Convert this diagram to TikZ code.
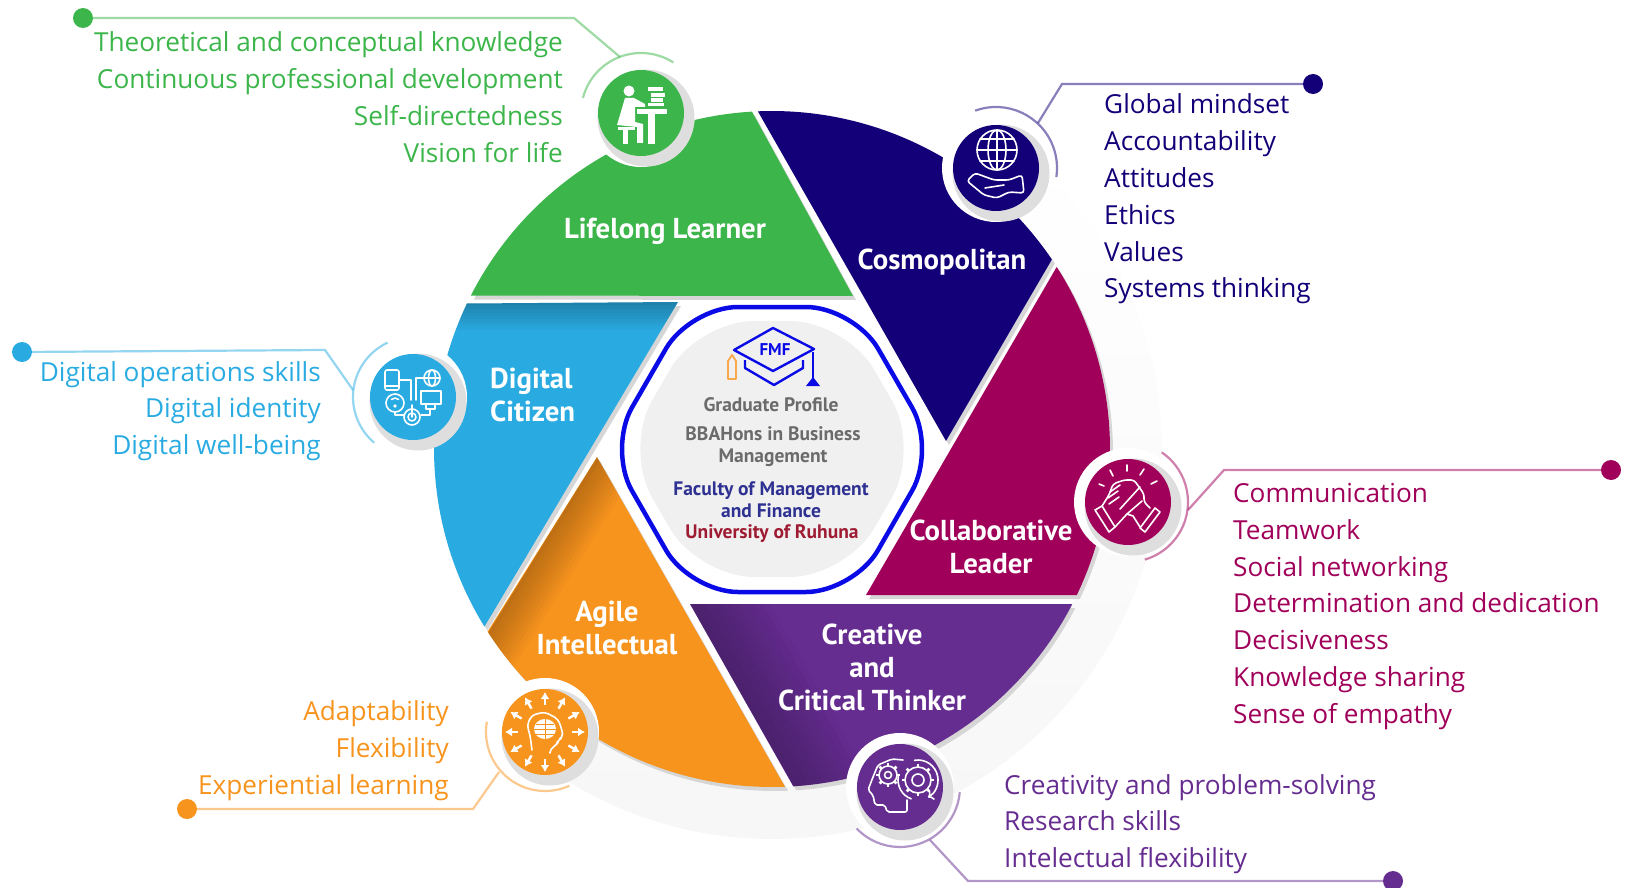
\documentclass[tikz,border=0pt]{standalone}
\usepackage{fontspec}
\usepackage{xcolor}
\usetikzlibrary{arrows.meta,positioning,calc}
\setmainfont{Open Sans}
\newfontfamily\capfont{PT Sans}

\definecolor{grn}{HTML}{3CB54A}
\definecolor{nvy}{HTML}{130078}
\definecolor{crm}{HTML}{A0005A}
\definecolor{prp}{HTML}{662D91}
\definecolor{org}{HTML}{F7941E}
\definecolor{blu}{HTML}{29ABE2}
\definecolor{capblue}{HTML}{0A0AE6}
\definecolor{facblue}{HTML}{2E3192}
\definecolor{unired}{HTML}{9E1B32}

\tikzset{
  listtext/.style={inner sep=0pt,font=\fontsize{26.2}{36.8}\selectfont},
  caplabel/.style={inner sep=0pt,text=white,align=center,font=\capfont\bfseries\fontsize{28.8}{33}\selectfont},
  midlabel/.style={inner sep=0pt,align=center,font=\capfont\bfseries\fontsize{19.5}{22}\selectfont},
  bubble/.style={circle,minimum size=86pt,inner sep=0pt},
  leader/.style={line width=2.2pt,opacity=.5},
  dotend/.style={circle,minimum size=20pt,inner sep=0pt},
  icoline/.style={white,line width=1.6pt,line join=round,line cap=round},
  icofill/.style={white}
}

\newcommand{\wedgeseg}[5]{%
\fill[black!16,shift={(3,4)}] (772,449) ++(#2:338pt) arc[start angle=#2,end angle=#3,radius=338pt] #4 -- cycle;
\fill[#1] (772,449) ++(#2:338pt) arc[start angle=#2,end angle=#3,radius=338pt] #4 -- cycle;
\begin{scope}
\clip (772,449) ++(#2:338pt) arc[start angle=#2,end angle=#3,radius=338pt] #4 -- cycle;
#5
\end{scope}}

\newcommand{\edgefade}[3]{%
\foreach \st in {.1,.2,...,1} {
\fill[black,opacity=.022] #1 -- #2 -- ($#2+\st*#3$) -- ($#1+\st*#3$) -- cycle; }}

\newcommand{\bubbleat}[3]{%
\fill[white] (#2) circle[radius=54pt];
\fill[black!13] ($(#2)+(5,5)$) circle[radius=48.5pt];
\node[bubble,fill=#1] (#3) at (#2) {};}

\newcommand{\gearat}[4]{%
\draw[icoline,#4] (#1,#2) circle[radius=#3pt];
\foreach \a in {0,45,...,315} {
\draw[icoline,#4,line width=2.8pt,line cap=butt] ($(#1,#2)+(\a:#3pt)$) -- ($(#1,#2)+(\a:#3pt+3pt)$); }}

\begin{document}
\begin{tikzpicture}[x=1pt,y=-1pt]
\useasboundingbox (0,0) rectangle (1627,888);

\shade[top color=white,middle color=black!6,bottom color=black!3.5] (772,449) ++(51:390pt) arc[start angle=51,end angle=-129,radius=390pt]
  -- ++(51:52pt) arc[start angle=-129,end angle=51,radius=338pt] -- cycle;

\wedgeseg{grn}{153}{93.4}{-- (853,296)}{}
\wedgeseg{nvy}{92.4}{34.1}{-- (946,441)}{}
\wedgeseg{crm}{32.6}{-25.6}{-- (866,595)}{}
\wedgeseg{prp}{-27.3}{-86.4}{-- (690,604)}{\edgefade{(670,569)}{(813,820)}{(61,-35)}}
\wedgeseg{org}{-87.8}{-147.3}{-- (597,457)}{\edgefade{(617,425)}{(470,662)}{(34,21)}}
\wedgeseg{blu}{211.7}{154.5}{-- (678,302)}{\edgefade{(440,302)}{(700,302)}{(0,28)}}

\fill[black!6,rounded corners=56pt] (624,449) -- (698,321) -- (846,321) -- (920,449) -- (846,577) -- (698,577) -- cycle;
\draw[capblue,line width=4.5pt,rounded corners=48pt] (608,449) -- (690,307) -- (854,307) -- (936,449) -- (854,592) -- (690,592) -- cycle;

\draw[capblue,line width=2.4pt,line join=round] (773,328) -- (814,349) -- (773,371) -- (734,350) -- cycle;
\draw[capblue,line width=2.4pt,line join=round] (745,360) -- (745,368) -- (774,385) -- (803,368) -- (803,360);
\draw[capblue,line width=2.2pt] (813,352) -- (813,382);
\fill[capblue] (806,386) -- (820,386) -- (813,377) -- cycle;
\draw[org!80,line width=1.8pt,line join=round] (728,379) -- (736,379) -- (736,361) -- (732,355) -- (728,361) -- cycle;
\node[inner sep=0pt,text=capblue,font=\capfont\bfseries\fontsize{17}{17}\selectfont] (fmf) at (775,350) {FMF};

\node[midlabel,text=black!58] (gradprofile) at (771,405) {Graduate Profile};
\node[midlabel,text=black!58] (degree) at (773,447) {BBAHons in Business\\Management};
\node[midlabel,text=facblue] (faculty) at (771,500) {Faculty of Management\\and Finance};
\node[midlabel,text=unired] (ruhuna) at (772,533.5) {University of Ruhuna};

\node[caplabel] (lifelong) at (665,231) {Lifelong Learner};
\node[caplabel] (cosmo) at (942,262) {Cosmopolitan};
\node[caplabel,align=left,anchor=west] (digital) at (490,395) {Digital\\Citizen};
\node[caplabel] (collab) at (991,547) {Collaborative\\Leader};
\node[caplabel] (creative) at (872,667) {Creative\\and\\Critical Thinker};
\node[caplabel] (agile) at (607,628) {Agile\\Intellectual};

\bubbleat{grn}{641,113}{bgrn}
\bubbleat{nvy}{996,168}{bnvy}
\bubbleat{crm}{1128,502}{bcrm}
\bubbleat{prp}{900,787}{bprp}
\bubbleat{org}{545,732}{borg}
\bubbleat{blu}{413,397}{bblu}

\draw[grn,leader] (bgrn.center) ++(165.5:60pt) arc[start angle=165.5,end angle=57.4,radius=60pt];
\draw[nvy,leader] (bnvy.center) ++(110:61pt) arc[start angle=110,end angle=-8.5,radius=61pt];
\draw[crm,leader] (bcrm.center) ++(55.8:60pt) arc[start angle=55.8,end angle=-73.7,radius=60pt];
\draw[prp,leader] (bprp.center) ++(223.7:60pt) arc[start angle=223.7,end angle=355,radius=60pt];
\draw[org,leader] (borg.center) ++(170:59pt) arc[start angle=170,end angle=294.4,radius=59pt];
\draw[blu,leader] (bblu.center) ++(115:60pt) arc[start angle=115,end angle=229.7,radius=60pt];

\node[dotend,fill=grn] (dotgrn) at (83,18) {};
\node[dotend,fill=nvy] (dotnvy) at (1313,84) {};
\node[dotend,fill=crm] (dotcrm) at (1611,470) {};
\node[dotend,fill=prp] (dotprp) at (1393,881) {};
\node[dotend,fill=org] (dotorg) at (187,809) {};
\node[dotend,fill=blu] (dotblu) at (22,352) {};

\coordinate (kneegrn) at (574,18);
\coordinate (footgrn) at (620,57);
\coordinate (kneenvy) at (1062,84);
\coordinate (footnvy) at (1038,123);
\coordinate (kneecrm) at (1224,470);
\coordinate (footcrm) at (1188,510);
\coordinate (kneeprp) at (968,881);
\coordinate (footprp) at (930,840);
\coordinate (kneeorg) at (473,809);
\coordinate (footorg) at (499,772);
\coordinate (kneeblu) at (325,350);
\coordinate (footblu) at (353,390);

\draw[grn,leader] (dotgrn) -- (kneegrn) -- (footgrn);
\draw[nvy,leader] (dotnvy) -- (kneenvy) -- (footnvy);
\draw[crm,leader] (dotcrm) -- (kneecrm) -- (footcrm);
\draw[prp,leader] (dotprp) -- (kneeprp) -- (footprp);
\draw[org,leader] (dotorg) -- (kneeorg) -- (footorg);
\draw[blu,leader] (dotblu) -- (kneeblu) -- (footblu);

\node[listtext,text=grn,align=right,anchor=east] (listgrn) at (563,97) {Theoretical and conceptual knowledge\\Continuous professional development\\Self-directedness\\Vision for life};
\node[listtext,text=nvy,align=left,anchor=west] (listnvy) at (1104,199) {Global mindset\\Accountability\\Attitudes\\Ethics\\Values\\Systems thinking};
\node[listtext,text=crm,align=left,anchor=west] (listcrm) at (1233,606.5) {Communication\\Teamwork\\Social networking\\Determination and dedication\\Decisiveness\\Knowledge sharing\\Sense of empathy};
\node[listtext,text=prp,align=left,anchor=west] (listprp) at (1004,824) {Creativity and problem-solving\\Research skills\\Intelectual flexibility};
\node[listtext,text=org,align=right,anchor=east] (listorg) at (449,750.5) {Adaptability\\Flexibility\\Experiential learning};
\node[listtext,text=blu,align=right,anchor=east] (listblu) at (321,411) {Digital operations skills\\Digital identity\\Digital well-being};

\begin{scope}[shift={(641,113)}]
\fill[icofill] (-12,-22) circle[radius=5.5pt];
\fill[icofill] (-16,-15) -- (-7,-15) -- (4,-9) -- (4,-6) -- (-6,-6) -- (-6,9) -- (2,11) -- (2,30) -- (-4,30) -- (-4,14) -- (-24,12) -- cycle;
\fill[icofill] (-23,14) rectangle (-6,17);
\fill[icofill] (-18,17) rectangle (-13,31);
\fill[icofill] (-4,-4) rectangle (26,1);
\fill[icofill] (7,1) rectangle (14,31);
\fill[icofill] (7,-26) rectangle (22,-22);
\fill[icofill] (10,-20) rectangle (24,-16);
\fill[icofill] (10,-15) rectangle (22,-11);
\fill[icofill] (7,-10) rectangle (23,-7);
\end{scope}

\begin{scope}[shift={(996,168)}]
\draw[icoline] (1,-18) circle[radius=20pt];
\draw[icoline] (1,-18) ellipse[x radius=9pt,y radius=20pt];
\draw[icoline] (1,-38) -- (1,2);
\draw[icoline] (-19,-18) -- (21,-18);
\draw[icoline] (-16,-29) -- (18,-29);
\draw[icoline] (-16,-7) -- (18,-7);
\draw[icoline,rounded corners=3pt] (-29,13) -- (-21,5) -- (-2,12) -- (13,12) -- (26,7) -- (28,25) -- (13,24) -- (1,30) -- (-12,27) -- cycle;
\draw[icoline] (-11,20) -- (8,17);
\end{scope}

\begin{scope}[shift={(413,397)}]
\draw[icoline,rounded corners=2pt] (-28,-27) rectangle (-14,-7);
\draw[icoline] (-28,-11) -- (-14,-11);
\draw[icoline] (19,-19) circle[radius=8pt];
\draw[icoline] (19,-19) ellipse[x radius=3.5pt,y radius=8pt];
\draw[icoline] (11,-19) -- (27,-19);
\draw[icoline] (8,-6) rectangle (28,7);
\draw[icoline] (13,7) -- (13,12) -- (22,12) -- (22,7);
\draw[icoline] (-18,6) circle[radius=9pt];
\draw[icoline] (-18,6) ++(135:5pt) arc[start angle=135,end angle=45,radius=5pt];
\fill[icofill] (-18,9) circle[radius=1.8pt];
\draw[icoline] (-1,20) circle[radius=8pt];
\draw[icoline] (-1,20) circle[radius=4pt];
\draw[icoline] (-1,8) -- (-1,20);
\draw[icoline] (-14,-17) -- (-2,-17) -- (-2,3);
\draw[icoline] (11,-19) -- (3,-19) -- (3,3);
\draw[icoline] (-18,15) -- (-18,18) -- (-9,18);
\draw[icoline] (8,18) -- (17,18) -- (17,12);
\end{scope}

\begin{scope}[shift={(1128,502)}]
\draw[icoline] (-33,8) -- (-26,4) -- (-13,25) -- (-19,30) -- cycle;
\draw[icoline] (27,6) -- (32,10) -- (17,30) -- (12,26) -- cycle;
\draw[icoline,rounded corners=3pt] (-26,4) -- (-19,-7) -- (-15,-18) -- (-4,-22) -- (6,-22) -- (11,-15) -- (16,-8) -- (16,0) -- (22,6);
\draw[icoline] (-13,25) -- (-1,12) -- (5,14) -- (12,25);
\draw[icoline] (-18,-10) -- (-8,-17);
\draw[icoline] (-20,-4) -- (-10,-11);
\draw[icoline] (-19,2) -- (-9,-5);
\draw[icoline] (-8,7) -- (12,-15);
\draw[icoline] (-1,12) -- (14,-1);
\draw[icoline] (-29,-18) -- (-24,-16);
\draw[icoline] (-18,-32) -- (-15,-26);
\draw[icoline] (-1,-37) -- (-1,-31);
\draw[icoline] (16,-33) -- (12,-27);
\draw[icoline] (29,-21) -- (23,-18);
\end{scope}

\begin{scope}[shift={(545,732)}]
\foreach \a in {0,30,...,330} {
\draw[white,line width=2.4pt,-{Latex[length=7pt,width=9pt]}] (\a:27) -- (\a:40); }
\draw[icoline,rounded corners=4pt] (-13,18) -- (-15,3) -- (-18,-7) -- (-13,-17) -- (0,-20) -- (13,-13) -- (17,-2) -- (18,5) -- (13,8) -- (12,13) -- (5,17) -- (5,20);
\fill[icofill] (0,-3) ellipse[x radius=11pt,y radius=10pt];
\draw[org,line width=1pt] (0,-13) -- (0,7);
\draw[org,line width=1pt] (-11,-3) -- (11,-3);
\draw[org,line width=1pt] (-9,-8) -- (9,-8);
\draw[org,line width=1pt] (-9,2) -- (9,2);
\end{scope}

\begin{scope}[shift={(900,787)}]
\draw[icoline,rounded corners=2pt] (3,-27) -- (-8,-28) -- (-22,-22) -- (-27,-10) -- (-32,3) -- (-27,8) -- (-25,18) -- (-15,18) -- (-13,25) -- (7,25) -- (7,13);
\gearat{-12}{-12}{9}{}
\draw[icoline] (-12,-12) circle[radius=3.5pt];
\gearat{18}{-7}{13}{}
\draw[icoline] (18,-7) circle[radius=6pt];
\draw[icoline,->] (18,-7) ++(100:20pt) arc[start angle=100,end angle=-60,radius=20pt];
\draw[icoline] (18,-7) ++(170:20pt) arc[start angle=170,end angle=250,radius=20pt];
\end{scope}
\end{tikzpicture}
\end{document}
